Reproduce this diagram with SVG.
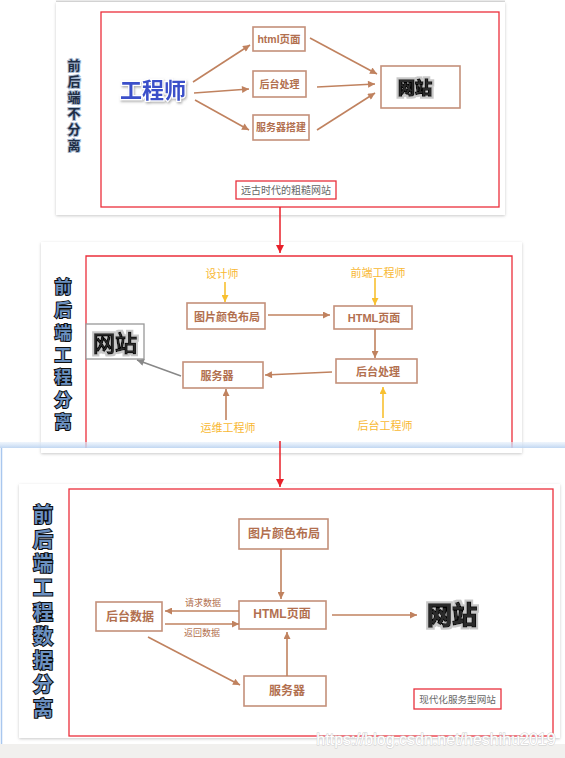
<svg xmlns="http://www.w3.org/2000/svg" width="565" height="758" viewBox="0 0 565 758">
<style>
text{font-family:"Liberation Sans","Noto Sans CJK SC",sans-serif}
.card{fill:#fff;filter:url(#sh)}
.red{fill:none;stroke:#ec2f3b;stroke-width:1.3}
.box{fill:#fff;stroke:#c4907a;stroke-width:1.6}
.nt{fill:#b2704f;font-weight:bold;text-anchor:middle;dominant-baseline:central}
.yl{fill:#f8b833;font-size:11px;text-anchor:middle;dominant-baseline:central}
.ar{stroke:#c0825f;stroke-width:1.6;fill:none;marker-end:url(#mb)}
.ay{stroke:#f8c030;stroke-width:1.6;fill:none;marker-end:url(#my)}
.vt1{font-size:13px;font-weight:bold;fill:#1e2d44;stroke:#a8bad2;stroke-width:2;paint-order:stroke;text-anchor:middle;dominant-baseline:central}
.vt{font-weight:bold;fill:#6b90c0;stroke:#0d0d0d;stroke-width:2;paint-order:stroke;text-anchor:middle;dominant-baseline:central}
.web{fill:#2a2a2a;stroke:#000;stroke-width:1.6;paint-order:stroke;text-anchor:middle;dominant-baseline:central;filter:url(#halo)}
.b{font-weight:bold}
.lab{fill:#666;text-anchor:middle;dominant-baseline:central}
</style>
<defs>
<filter id="sh" x="-5%" y="-5%" width="110%" height="112%"><feDropShadow dx="0" dy="1" stdDeviation="1.5" flood-color="#888" flood-opacity="0.45"/></filter>
<filter id="halo" x="-20%" y="-20%" width="140%" height="140%"><feMorphology in="SourceAlpha" operator="dilate" radius="1.5" result="d"/><feFlood flood-color="#c8c8c8"/><feComposite in2="d" operator="in" result="h"/><feMerge><feMergeNode in="h"/><feMergeNode in="SourceGraphic"/></feMerge></filter>
<filter id="ts" x="-10%" y="-20%" width="120%" height="150%"><feDropShadow dx="1" dy="1.5" stdDeviation="1" flood-color="#777" flood-opacity="0.6"/></filter>
<linearGradient id="band" x1="0" y1="0" x2="0" y2="1"><stop offset="0" stop-color="#e4eefa" stop-opacity="0.6"/><stop offset="1" stop-color="#b9d2f0" stop-opacity="0.9"/></linearGradient>
<marker id="mb" viewBox="0 0 10 10" refX="10" refY="5" markerWidth="9" markerHeight="7" markerUnits="userSpaceOnUse" orient="auto"><path d="M0,0L10,5L0,10z" fill="#c0825f"/></marker>
<marker id="my" viewBox="0 0 10 10" refX="10" refY="5" markerWidth="9" markerHeight="7" markerUnits="userSpaceOnUse" orient="auto"><path d="M0,0L10,5L0,10z" fill="#f8c030"/></marker>
<marker id="mg" viewBox="0 0 10 10" refX="10" refY="5" markerWidth="9" markerHeight="7" markerUnits="userSpaceOnUse" orient="auto"><path d="M0,0L10,5L0,10z" fill="#888"/></marker>
<marker id="mr" viewBox="0 0 10 10" refX="10" refY="5" markerWidth="10" markerHeight="8" markerUnits="userSpaceOnUse" orient="auto"><path d="M0,0L10,5L0,10z" fill="#e8202a"/></marker>
</defs>

<rect width="565" height="758" fill="#fff"/>

<g id="frames">
<rect x="0" y="744" width="565" height="14" fill="#f1f0ee"/>
<line x1="1.5" y1="448" x2="1.5" y2="744" stroke="#a9c7ee" stroke-width="1.5"/>
<line x1="56" y1="1.5" x2="505" y2="1.5" stroke="#d8d8d8" stroke-width="2"/>
<rect class="card" x="56" y="2" width="449" height="213"/>
<rect class="red" x="101" y="12" width="398" height="195"/>
<rect class="card" x="41" y="242" width="481" height="211"/>
<path class="red" d="M86,448V256H512V448"/>
<rect x="0" y="442" width="565" height="6" fill="url(#band)"/>
<rect class="card" x="19" y="484" width="541" height="254"/>
<rect class="red" x="69" y="489" width="484" height="247"/>
</g>

<!-- panel 1 -->
<g id="p1-title"><text class="vt1"><tspan x="74" y="65">前</tspan><tspan x="74" y="81">后</tspan><tspan x="74" y="97">端</tspan><tspan x="74" y="113">不</tspan><tspan x="74" y="129">分</tspan><tspan x="74" y="145">离</tspan></text></g>
<g id="p1-engineer"><text x="153" y="90" font-size="22" font-weight="600" fill="#3b4fc9" stroke="#fff" stroke-width="2.5" paint-order="stroke" text-anchor="middle" dominant-baseline="central" filter="url(#ts)">工程师</text></g>
<g id="p1-html"><rect class="box" x="253" y="27" width="52" height="24"/><text class="nt" x="279" y="39" font-size="10.5">html页面</text></g>
<g id="p1-backend"><rect class="box" x="253" y="71" width="53" height="26"/><text class="nt" x="279.5" y="84" font-size="10">后台处理</text></g>
<g id="p1-server"><rect class="box" x="253" y="115" width="56" height="25"/><text class="nt" x="281" y="127.5" font-size="10">服务器搭建</text></g>
<g id="p1-site"><rect class="box" x="381" y="66" width="79" height="42"/><text class="web b" x="415" y="88" font-size="17">网站</text></g>
<g id="p1-label"><rect x="236" y="181" width="100" height="18" fill="#fff" stroke="#e8303c" stroke-width="1.3"/><text class="lab" x="286" y="190" font-size="10">远古时代的粗糙网站</text></g>

<!-- panel 2 -->
<g id="p2-title"><text class="vt" font-size="17"><tspan x="63" y="287">前</tspan><tspan x="63" y="310">后</tspan><tspan x="63" y="333">端</tspan><tspan x="63" y="355">工</tspan><tspan x="63" y="377">程</tspan><tspan x="63" y="400">分</tspan><tspan x="63" y="422">离</tspan></text></g>
<g id="p2-designer"><text class="yl" x="222" y="274">设计师</text></g>
<g id="p2-fe"><text class="yl" x="378" y="273">前端工程师</text></g>
<g id="p2-ops"><text class="yl" x="228" y="428">运维工程师</text></g>
<g id="p2-be"><text class="yl" x="385" y="426">后台工程师</text></g>
<g id="p2-layout"><rect class="box" x="187" y="303" width="78" height="26"/><text class="nt" x="227" y="317" font-size="11">图片颜色布局</text></g>
<g id="p2-html"><rect class="box" x="334" y="306" width="78" height="23"/><text class="nt" x="374" y="317.5" font-size="11">HTML页面</text></g>
<g id="p2-backend"><rect class="box" x="336" y="359" width="81" height="24"/><text class="nt" x="378" y="371.5" font-size="11">后台处理</text></g>
<g id="p2-server"><rect class="box" x="183" y="362" width="80" height="26"/><text class="nt" x="217" y="376" font-size="11">服务器</text></g>
<g id="p2-site"><rect x="86" y="324" width="58" height="35" fill="#fff" stroke="#999" stroke-width="1.3"/><text class="web" x="115" y="343" font-size="22" fill="#383838">网站</text></g>

<!-- panel 3 -->
<g id="p3-title"><text class="vt" font-size="20"><tspan x="43" y="515">前</tspan><tspan x="43" y="540">后</tspan><tspan x="43" y="564">端</tspan><tspan x="43" y="588">工</tspan><tspan x="43" y="613">程</tspan><tspan x="43" y="637">数</tspan><tspan x="43" y="661">据</tspan><tspan x="43" y="685">分</tspan><tspan x="43" y="709">离</tspan></text></g>
<g id="p3-layout"><rect class="box" x="239" y="519" width="89" height="30"/><text class="nt" x="284" y="534" font-size="12">图片颜色布局</text></g>
<g id="p3-html"><rect class="box" x="239" y="601" width="87" height="28"/><text class="nt" x="282" y="614" font-size="12">HTML页面</text></g>
<g id="p3-data"><rect class="box" x="96" y="602" width="66" height="29"/><text class="nt" x="130" y="617" font-size="12">后台数据</text></g>
<g id="p3-server"><rect class="box" x="244" y="676" width="82" height="30"/><text class="nt" x="287" y="691" font-size="12">服务器</text></g>
<g id="p3-site"><text class="web b" x="452" y="615" font-size="25">网站</text></g>
<g id="p3-label"><rect x="414" y="689" width="87" height="20" fill="#fff" stroke="#e8303c" stroke-width="1.3"/><text class="lab" x="457.5" y="699" font-size="9.6">现代化服务型网站</text></g>

<!-- connectors -->
<g id="connectors">
<line class="ar" x1="193" y1="82" x2="250" y2="45"/>
<line class="ar" x1="194" y1="93" x2="249" y2="89"/>
<line class="ar" x1="195" y1="100" x2="249" y2="130"/>
<line class="ar" x1="310" y1="38" x2="377" y2="74"/>
<line class="ar" x1="317" y1="87" x2="375" y2="84"/>
<line class="ar" x1="317" y1="130" x2="375" y2="93"/>
<line x1="280" y1="207" x2="280" y2="253" stroke="#e8202a" stroke-width="1.5" marker-end="url(#mr)"/>

<line class="ay" x1="225" y1="282" x2="225" y2="302"/>
<line class="ay" x1="375" y1="278" x2="375" y2="305"/>
<line class="ar" x1="268" y1="315" x2="330" y2="315"/>
<line class="ar" x1="375" y1="329" x2="375" y2="358"/>
<line class="ar" x1="332" y1="372" x2="265" y2="375"/>
<line x1="181" y1="376" x2="137" y2="360" stroke="#888" stroke-width="1.6" marker-end="url(#mg)"/>
<line class="ar" x1="226" y1="420" x2="226" y2="389"/>
<line class="ay" x1="383" y1="418" x2="383" y2="387"/>
<line x1="280" y1="441" x2="280" y2="487" stroke="#e8202a" stroke-width="1.5" marker-end="url(#mr)"/>

<line class="ar" x1="281" y1="549" x2="281" y2="599"/>
<line class="ar" x1="239" y1="611" x2="165" y2="611"/>
<line class="ar" x1="165" y1="624" x2="239" y2="624"/>
<line class="ar" x1="148" y1="637" x2="240" y2="685"/>
<line class="ar" x1="287" y1="676" x2="287" y2="632"/>
<line class="ar" x1="332" y1="615" x2="417" y2="615"/>
<text x="203" y="603" font-size="9" fill="#b2704f" text-anchor="middle" dominant-baseline="central">请求数据</text>
<text x="202" y="633" font-size="9" fill="#b2704f" text-anchor="middle" dominant-baseline="central">返回数据</text>
</g>

<text x="436" y="739" font-size="16" fill="#fff" stroke="#cfcfcf" stroke-width="1" paint-order="stroke" text-anchor="middle" dominant-baseline="central">https://blog.csdn.net/heshihu2019</text>
</svg>
